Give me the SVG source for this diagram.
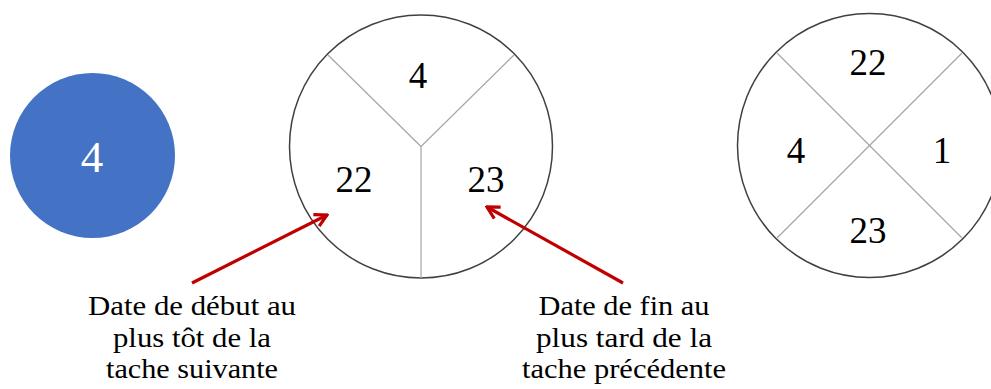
<svg xmlns="http://www.w3.org/2000/svg" width="991" height="389" viewBox="0 0 991 389">
  <defs>
    <style>
      .ring { fill: #ffffff; stroke: #404040; stroke-width: 1.5; }
      .sep { stroke: #a6a6a6; stroke-width: 1.2; fill: none; }
      .num { font-family: "Liberation Serif", "Times New Roman", serif; font-size: 37px; fill: #000000; text-anchor: middle; }
      .lbl { font-family: "Liberation Serif", "Times New Roman", serif; font-size: 27.5px; fill: #000000; text-anchor: middle; }
      .arrow { stroke: #c00000; stroke-width: 3.2; fill: none; }
    </style>
    <marker id="openArrow" viewBox="0 0 16 16" refX="14" refY="8" markerWidth="16" markerHeight="16" markerUnits="userSpaceOnUse" orient="auto">
      <path d="M2,1.5 L14,8 L2,14.5" fill="none" stroke="#c00000" stroke-width="3.2" stroke-linejoin="miter"/>
    </marker>
  </defs>
  <rect x="0" y="0" width="991" height="389" fill="#ffffff"/>

  <g id="node-blue">
    <circle cx="92.5" cy="155.5" r="82.5" fill="#4472c4"/>
    <text x="92" y="172" font-family="Liberation Serif, Times New Roman, serif" font-size="45" fill="#ffffff" text-anchor="middle">4</text>
  </g>

  <g id="node-legend-3">
    <circle class="ring" cx="421" cy="146.5" r="131.5"/>
    <line class="sep" x1="421" y1="146.5" x2="328" y2="55"/>
    <line class="sep" x1="421" y1="146.5" x2="514" y2="55"/>
    <line class="sep" x1="421" y1="146.5" x2="421" y2="278"/>
    <text class="num" x="418" y="88">4</text>
    <text class="num" x="354" y="192">22</text>
    <text class="num" x="486" y="192">23</text>
  </g>

  <g id="node-legend-4">
    <circle class="ring" cx="869.5" cy="145.5" r="132"/>
    <line class="sep" x1="777" y1="53" x2="962" y2="238"/>
    <line class="sep" x1="962" y1="53" x2="777" y2="238"/>
    <text class="num" x="868" y="75">22</text>
    <text class="num" x="796" y="163">4</text>
    <text class="num" x="942" y="163">1</text>
    <text class="num" x="868" y="243">23</text>
  </g>

  <g id="connectors">
    <line class="arrow" x1="192" y1="283" x2="327" y2="215" marker-end="url(#openArrow)"/>
    <line class="arrow" x1="623" y1="283" x2="487" y2="207" marker-end="url(#openArrow)"/>
  </g>

  <g id="label-left">
    <text class="lbl" x="192" y="315" textLength="208" lengthAdjust="spacingAndGlyphs">Date de début au</text>
    <text class="lbl" x="192" y="347" textLength="158" lengthAdjust="spacingAndGlyphs">plus tôt de la</text>
    <text class="lbl" x="192" y="378" textLength="172" lengthAdjust="spacingAndGlyphs">tache suivante</text>
  </g>

  <g id="label-right">
    <text class="lbl" x="624" y="315" textLength="171" lengthAdjust="spacingAndGlyphs">Date de fin au</text>
    <text class="lbl" x="624" y="347" textLength="176" lengthAdjust="spacingAndGlyphs">plus tard de la</text>
    <text class="lbl" x="624" y="378" textLength="204" lengthAdjust="spacingAndGlyphs">tache précédente</text>
  </g>
</svg>
